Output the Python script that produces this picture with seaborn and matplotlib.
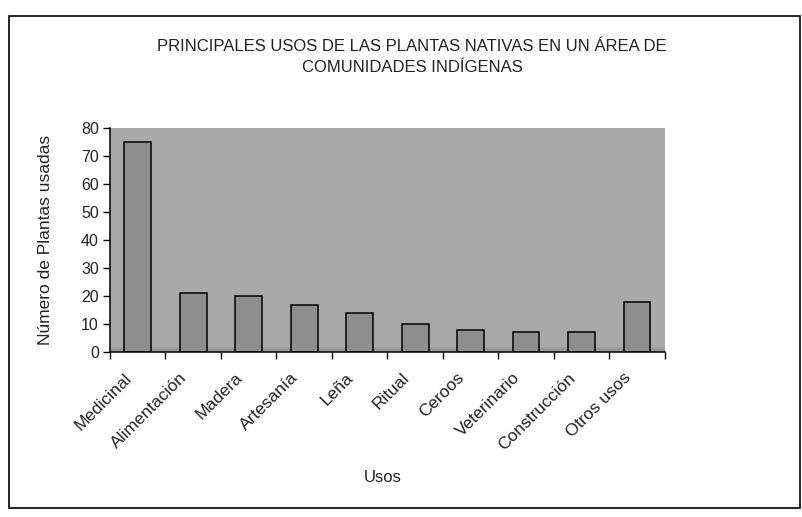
import matplotlib
matplotlib.use("Agg")
import matplotlib.pyplot as plt
import matplotlib.transforms as mtransforms
import numpy as np
import pandas as pd
import seaborn as sns
from matplotlib.patches import Rectangle

# Datos
usos = ["Medicinal", "Alimentación", "Madera", "Artesanía", "Leña", "Ritual",
        "Ceroos", "Veterinario", "Construcción", "Otros usos"]
num_plantas = [75, 21, 20, 17, 14, 10, 8, 7, 7, 18]
y_ticks = [0, 10, 20, 30, 40, 50, 60, 70, 80]

titulo = "PRINCIPALES USOS DE LAS PLANTAS NATIVAS EN UN ÁREA DE\nCOMUNIDADES INDÍGENAS"


def main():
    sns.set_theme(style="white")
    plt.rcParams['font.family'] = ['Liberation Sans', 'DejaVu Sans']

    df = pd.DataFrame({"Usos": usos, "Plantas": num_plantas})

    fig = plt.figure(figsize=(8.03, 5.17), dpi=100)
    fig.patch.set_facecolor("white")

    # marco exterior del grafico
    fig.patches.append(Rectangle((0.011, 0.017), 0.985, 0.953, transform=fig.transFigure,
                                 fill=False, edgecolor="black", linewidth=1.2))

    ax = fig.add_axes([0.137, 0.319, 0.691, 0.433])
    ax.set_facecolor("#a9a9a9")
    ax.axhspan(0, 1.3, color="#979797", zorder=0.5)

    sns.barplot(data=df, x="Usos", y="Plantas", ax=ax, color="#8e8e8e",
                width=0.48, edgecolor="black", linewidth=1.1, saturation=1, zorder=2)

    ax.set_xlim(-0.5, len(usos) - 0.5)
    ax.set_ylim(0, 80)
    ax.set_yticks(y_ticks)
    ax.tick_params(axis="y", direction="out", length=5, width=1, color="black",
                   labelsize=11.5, pad=3, labelcolor="#222222", left=True)

    # ticks del eje x entre categorias (estilo Excel)
    ax.set_xticks(np.arange(len(usos)))
    ax.set_xticklabels(usos, rotation=45, ha="right", rotation_mode="anchor",
                       fontsize=12.5, color="#222222")
    ax.tick_params(axis="x", which="major", length=0, pad=9)
    ax.set_xticks(np.arange(-0.5, len(usos)), minor=True)
    ax.tick_params(axis="x", which="minor", direction="out", length=5, width=1,
                   color="black", bottom=True)
    # desplazar un poco las etiquetas hacia la izquierda
    offset = mtransforms.ScaledTranslation(-10 / 72, -4 / 72, fig.dpi_scale_trans)
    for lbl in ax.get_xticklabels():
        lbl.set_transform(lbl.get_transform() + offset)

    for side in ["top", "right"]:
        ax.spines[side].set_visible(False)
    ax.spines["left"].set_color("black")
    ax.spines["bottom"].set_color("black")
    ax.spines["left"].set_linewidth(1.1)
    ax.spines["bottom"].set_linewidth(1.1)

    ax.set_xlabel("")
    ax.set_ylabel("Número de Plantas usadas", fontsize=12.5, color="#222222", labelpad=20)

    fig.text(0.513, 0.89, titulo, ha="center", va="center", fontsize=12,
             color="#222222", linespacing=1.45)
    fig.text(0.477, 0.077, "Usos", ha="center", va="center", fontsize=12, color="#222222")

    fig.savefig("out.png", dpi=100, facecolor="white")
    plt.close(fig)


if __name__ == "__main__":
    main()
